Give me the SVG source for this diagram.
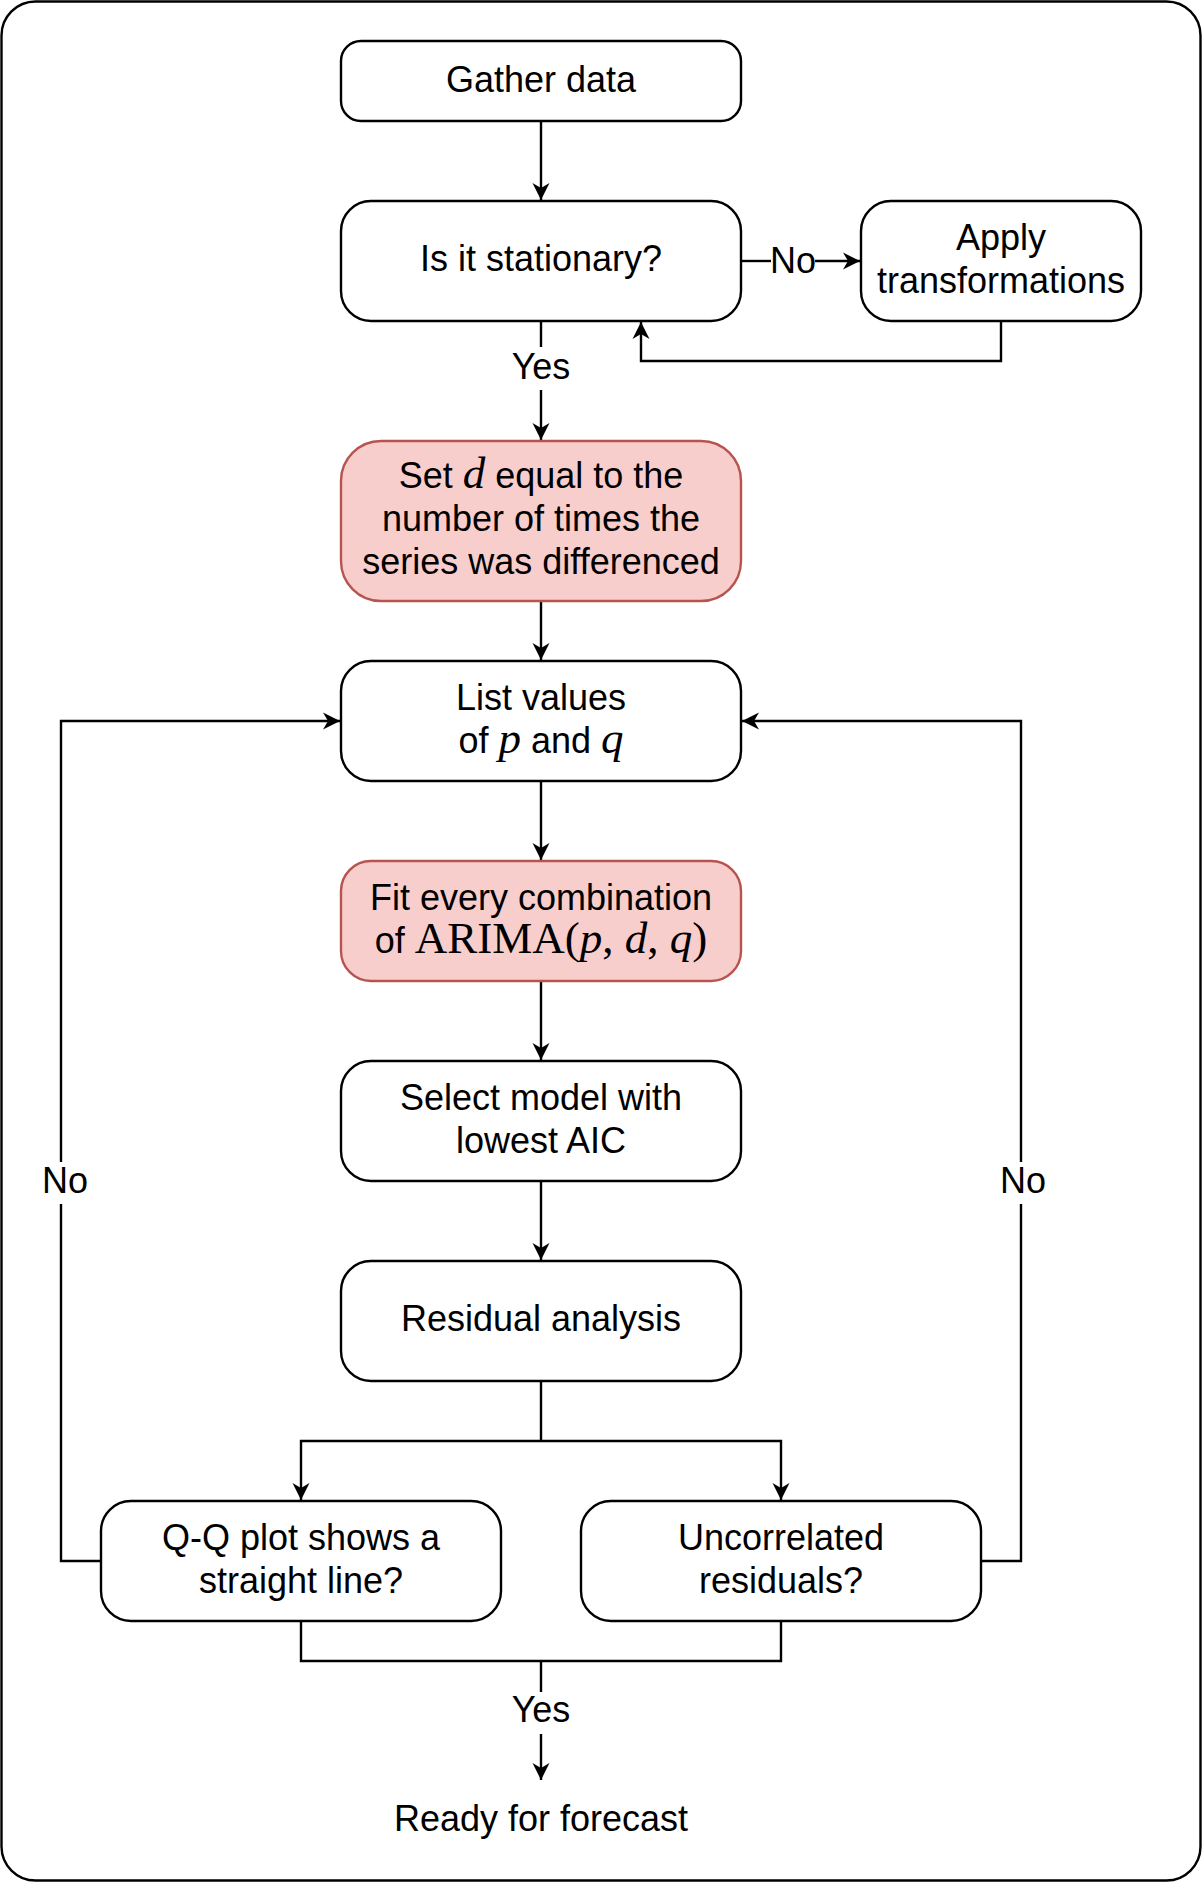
<svg xmlns="http://www.w3.org/2000/svg" width="1202" height="1882" viewBox="0 0 1202 1882">
<style>
.frame{fill:#ffffff;stroke:#000000;stroke-width:2.4}
.box{fill:#ffffff;stroke:#000000;stroke-width:2.4}
.hl{fill:#f8cecc;stroke:#b85450;stroke-width:2.4}
.t{font-family:"Liberation Sans",Arial,Helvetica,sans-serif;font-size:36px;fill:#000000;text-anchor:middle}
.m{font-family:"Liberation Serif","Times New Roman",serif;font-style:italic;font-size:45px}
.mr{font-family:"Liberation Serif","Times New Roman",serif;font-style:normal;font-size:45px}
.c{fill:none;stroke:#000000;stroke-width:2.4}
</style>
<defs>
<marker id="arr" markerUnits="userSpaceOnUse" viewBox="-18 -10 20 20" refX="0" refY="0" markerWidth="20" markerHeight="20" orient="auto">
<path d="M0,0 L-17,-8.5 L-12,0 L-17,8.5 Z" fill="#000000"/>
</marker>
</defs>
<rect class="frame" x="1.5" y="1.5" width="1199" height="1879" rx="34" ry="34"/>
<g id="connectors">
<path class="c" d="M541,121 L541,200" marker-end="url(#arr)"/>
<path class="c" d="M541,321 L541,347"/>
<path class="c" d="M541,390 L541,440" marker-end="url(#arr)"/>
<path class="c" d="M741,261 L771,261"/>
<path class="c" d="M815,261 L860,261" marker-end="url(#arr)"/>
<path class="c" d="M1001,321 L1001,361 L641,361 L641,322" marker-end="url(#arr)"/>
<path class="c" d="M541,601 L541,660" marker-end="url(#arr)"/>
<path class="c" d="M541,781 L541,860" marker-end="url(#arr)"/>
<path class="c" d="M541,981 L541,1060" marker-end="url(#arr)"/>
<path class="c" d="M541,1181 L541,1260" marker-end="url(#arr)"/>
<path class="c" d="M541,1381 L541,1441"/>
<path class="c" d="M541,1441 L301,1441 L301,1500" marker-end="url(#arr)"/>
<path class="c" d="M541,1441 L781,1441 L781,1500" marker-end="url(#arr)"/>
<path class="c" d="M101,1561 L61,1561 L61,1204"/>
<path class="c" d="M61,1162 L61,721 L340,721" marker-end="url(#arr)"/>
<path class="c" d="M981,1561 L1021,1561 L1021,1204"/>
<path class="c" d="M1021,1162 L1021,721 L742,721" marker-end="url(#arr)"/>
<path class="c" d="M301,1621 L301,1661 L781,1661 L781,1621"/>
<path class="c" d="M541,1661 L541,1692"/>
<path class="c" d="M541,1734 L541,1780" marker-end="url(#arr)"/>
<text class="t" x="541" y="379">Yes</text>
<text class="t" x="793" y="273">No</text>
<text class="t" x="65" y="1193">No</text>
<text class="t" x="1023" y="1193">No</text>
<text class="t" x="541" y="1722">Yes</text>
</g>
<g id="gather">
<rect class="box" x="341" y="41" width="400" height="80" rx="20" ry="20"/>
<text class="t" x="541" y="91.5">Gather data</text>
</g>
<g id="stationary">
<rect class="box" x="341" y="201" width="400" height="120" rx="30" ry="30"/>
<text class="t" x="541" y="271">Is it stationary?</text>
</g>
<g id="apply">
<rect class="box" x="861" y="201" width="280" height="120" rx="30" ry="30"/>
<text class="t" x="1001" y="250">Apply</text>
<text class="t" x="1001" y="293">transformations</text>
</g>
<g id="setd">
<rect class="hl" x="341" y="441" width="400" height="160" rx="40" ry="40"/>
<text class="t" x="541" y="487.5">Set <tspan class="m">d</tspan> equal to the</text>
<text class="t" x="541" y="530.5">number of times the</text>
<text class="t" x="541" y="573.5">series was differenced</text>
</g>
<g id="listpq">
<rect class="box" x="341" y="661" width="400" height="120" rx="30" ry="30"/>
<text class="t" x="541" y="709.5">List values</text>
<text class="t" x="541" y="752.5">of <tspan class="m">p</tspan> and <tspan class="m">q</tspan></text>
</g>
<g id="fit">
<rect class="hl" x="341" y="861" width="400" height="120" rx="30" ry="30"/>
<text class="t" x="541" y="909.5">Fit every combination</text>
<text class="t" x="541" y="952.5">of <tspan class="mr">ARIMA(</tspan><tspan class="m">p</tspan><tspan class="mr">, </tspan><tspan class="m">d</tspan><tspan class="mr">, </tspan><tspan class="m">q</tspan><tspan class="mr">)</tspan></text>
</g>
<g id="select">
<rect class="box" x="341" y="1061" width="400" height="120" rx="30" ry="30"/>
<text class="t" x="541" y="1109.5">Select model with</text>
<text class="t" x="541" y="1152.5">lowest AIC</text>
</g>
<g id="residual">
<rect class="box" x="341" y="1261" width="400" height="120" rx="30" ry="30"/>
<text class="t" x="541" y="1331">Residual analysis</text>
</g>
<g id="qq">
<rect class="box" x="101" y="1501" width="400" height="120" rx="30" ry="30"/>
<text class="t" x="301" y="1549.5">Q-Q plot shows a</text>
<text class="t" x="301" y="1592.5">straight line?</text>
</g>
<g id="uncorrelated">
<rect class="box" x="581" y="1501" width="400" height="120" rx="30" ry="30"/>
<text class="t" x="781" y="1549.5">Uncorrelated</text>
<text class="t" x="781" y="1592.5">residuals?</text>
</g>
<g id="ready">
<text class="t" x="541" y="1831">Ready for forecast</text>
</g>
</svg>
